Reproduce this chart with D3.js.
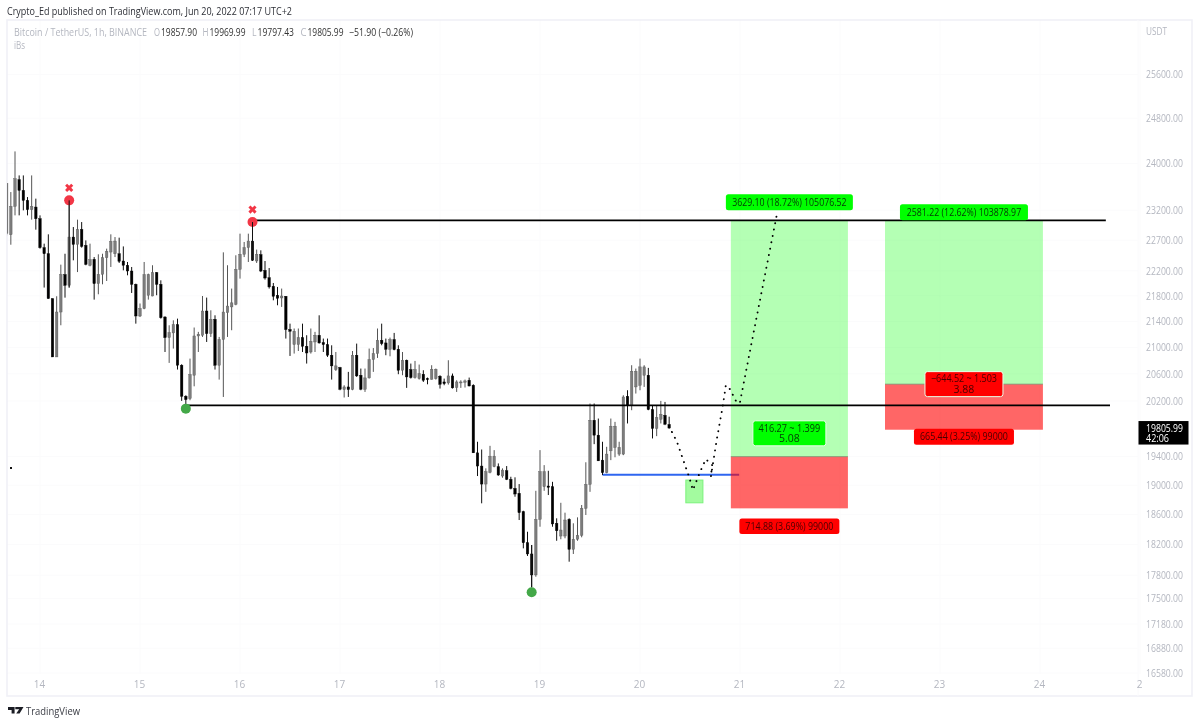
<!DOCTYPE html>
<html>
<head>
<meta charset="utf-8">
<script src="https://cdn.jsdelivr.net/npm/d3@7"></script>
<style>
  html, body {margin:0; padding:0; background:#fff;}
  svg {display:block; filter:blur(0.35px);}
  text {font-family:"Open Sans", sans-serif;}
</style>
</head>
<body>
<div id="chart"></div>
<script>
const WIDTH = 1200, HEIGHT = 724
const PANE = {LEFT:7, RIGHT:1192, TOP:20, BOTTOM:696, AXIS:1138}

// hourly candles, first one is 16:00 on the 13th
const firstHour = -8
const opens = [22812,22790,23264,23718,23535,23365,23208,23252,
  23056,22577,22477,21757,20855,21546,22140,21968,22751,22630,
  22878,22614,22290,22386,21995,22144,22412,22505,22477,22477,
  22359,22290,22197,21984,21484,21600,21810,21798,22171,21984,
  21468,21150,21222,21350,20730,20268,20235,20580,21175,21186,
  21562,21212,21433,20730,21120,21536,21626,21667,22224,22468,
  22577,22685,22359,22463,22208,22090,21952,21810,21767,21794,
  21274,21043,21043,21150,21017,20930,21083,21186,21074,21043,
  20881,20665,20695,20367,20406,20367,20881,20580,20372,20540,
  20815,20906,21109,21068,20972,21120,20972,20655,20805,20665,
  20545,20530,20595,20530,20520,20530,20565,20480,20465,20570,
  20397,20465,20475,20505,20431,19453,19267,19017,19180,19258,
  19258,19128,19201,19082,18957,18890,18640,18224,18076,17803,
  18536,18980,18990,18980,18483,18313,18313,18536,18137,18270,
  18322,18685,19013,19919,19704,19350,19175,19481,19530,19435,
  19435,20268,20137,20406,20431,20580,20580,20074,19800,19933,19990,19857.90]
const highs = [23655,23506,24210,23792,23792,23421,23792,23394,
  23112,22642,22796,21757,21794,22300,22477,23365,22917,23040,
  23000,22696,22642,22423,22468,22477,22560,22796,22751,22741,
  22597,22343,22262,21995,21680,22343,22155,22290,22180,22048,
  21480,21340,21417,21443,20745,20283,20830,21305,21238,21798,
  21773,21573,21495,21160,22500,22290,21916,22452,22807,22670,
  22807,23000,22545,22533,22359,22245,22005,21942,21916,21794,
  21365,21290,21290,21365,21186,21290,21238,21495,21135,21135,
  21032,20930,20705,20431,20630,20945,21058,20680,20680,20982,
  20990,21290,21365,21135,21150,21222,21032,20930,20815,20755,
  20795,20740,20655,20545,20730,20680,20580,20530,20805,20605,
  20505,20505,20515,20545,20445,19610,19500,19235,19552,19491,
  19304,19235,19267,19118,19110,19017,18652,18370,18194,18924,
  19491,19280,19201,19048,18550,18760,18626,18550,18483,18563,
  18730,19320,20162,20162,19943,19610,19538,19943,19895,19610,
  20283,20357,20730,20680,20830,20730,20690,20137,20137,20200,20185,19969.99]
const lows = [22779,22625,23112,23112,23196,23112,23040,22873,
  22560,21932,21757,20855,20855,21340,21772,21932,22370,22180,
  22577,22290,22273,21741,21825,21984,22037,22262,22423,22327,
  22208,22128,21846,21365,21468,21590,21741,21794,21810,21443,
  20930,20765,20982,20665,20200,20137,20210,20415,20930,21160,
  21083,21160,20665,20515,20258,21160,21263,21652,22075,22423,
  22343,22359,22327,22180,22059,21916,21730,21652,21626,21135,
  20870,20906,20945,20930,20755,20906,20930,21058,20930,20855,
  20515,20645,20357,20250,20258,20357,20555,20357,20332,20530,
  20630,20840,21032,20881,20865,20956,20595,20580,20392,20530,
  20530,20515,20480,20445,20515,20515,20382,20431,20440,20382,
  20332,20392,20397,20415,19453,19128,18753,18910,19166,19250,
  19132,19104,19072,18944,18843,18527,18150,18050,17645,17780,
  18437,18924,18866,18437,18250,18270,18283,17975,18076,18250,
  18296,18595,18910,19576,19340,19142,19166,19350,19390,19410,
  19420,19872,20064,20308,20357,20406,20064,19657,19690,19872,19848,19797.43]
const closes = [23655,23264,23735,23535,23365,23208,23264,23056,
  22577,22477,21757,20855,21546,22140,21968,22751,22630,22878,
  22597,22305,22380,21995,22144,22412,22517,22680,22685,22354,
  22290,22197,21984,21484,21600,22140,22140,22171,21984,21458,
  21150,21228,21350,20730,20268,20220,20590,21175,21202,21562,
  21212,21433,20730,21120,21546,21640,21690,22224,22468,22577,
  22685,22370,22468,22197,22085,21942,21794,21762,21798,21274,
  21248,21248,21150,21017,20915,21094,21186,21068,21043,20881,
  20720,20720,20372,20406,20367,20881,20570,20372,20540,20815,
  20906,21109,21058,20972,21120,20966,20655,20805,20555,20545,
  20665,20605,20505,20515,20670,20670,20445,20455,20570,20392,
  20480,20480,20495,20420,19453,19267,19017,19188,19406,19406,
  19142,19211,19082,18957,18880,18626,18224,18076,17803,18536,
  19188,19188,18972,18474,18383,18393,18527,18137,18270,18322,
  18685,19013,19919,19704,19340,19175,19435,19833,19833,19530,
  20258,20137,20640,20640,20705,20705,20074,19800,19958,20006,19862,19805.99]

const priceTicks = [25600,24800,24000,23200,22700,22200,21800,21400,21000,20600,20200,19400,19000,18600,18200,17800,17500,17180,16880,16580]
const dayTicks = [0,24,48,72,96,120,144,168,192,216,240,264]
const dayLabels = ["14","15","16","17","18","19","20","21","22","23","24","2"]

// swing markers
const highMarkHours = [7,51], highMarkPrices = [23365,23000]
const lowMarkHours = [35,118], lowMarkPrices = [20160,17645]

// drawn levels
const resistance = 23028.6, support = 20135
const resistanceFrom = 51, resistanceTo = 255.8
const supportFrom = 35, supportTo = 256.8
const entryLevel = 19146, entryFrom = 135, entryTo = 167.8

// long positions
const posFrom = [165.8,202.8], posTo = [193.9,240.7]
const posEntry = [19399.5,20447.4], posStop = [18684.6,19782]

const targetLabels = ["3629.10 (18.72%) 105076.52","2581.22 (12.62%) 103878.97"]
const stopLabels = ["714.88 (3.69%) 99000","665.44 (3.25%) 99000"]
const midLabels = [["416.27 ~ 1.399","5.08"],["\u2212644.52 ~ 1.503","3.88"]]

// entry zone
const zoneFrom = 155, zoneTo = 159.1, zoneTop = 19072, zoneBottom = 18760

// projected path
const pathHours = [150.96,152.9,154.3,155.8,156.7,158.4,159.8,161.3,161,162.4,163.9,164.6,165.6,167.3,168,170.9,176.9]
const pathPrices = [19833,19605,19364,19114,18934,19183,19364,19280,19114,19633,20137,20431,20372,20167,20181,21109,23146]

const x = d3.scaleLinear().domain([0,24]).range([40,140])
const y = d3.scaleLog().domain([25600,16580]).range([74.5,673])

const svg = d3.select("#chart").append("svg")
  .attr("width", WIDTH)
  .attr("height", HEIGHT)

svg.append("clipPath").attr("id","pane").append("rect")
  .attr("x", PANE.LEFT).attr("y", PANE.TOP)
  .attr("width", PANE.AXIS - PANE.LEFT).attr("height", PANE.BOTTOM - PANE.TOP)

// grid
svg.append("g").selectAll("line").data(priceTicks).enter().append("line")
  .attr("x1", PANE.LEFT).attr("x2", PANE.AXIS)
  .attr("y1", d => y(d)).attr("y2", d => y(d))
  .attr("stroke", "#fbfbfc")
svg.append("g").selectAll("line").data(dayTicks).enter().append("line")
  .attr("x1", d => x(d)).attr("x2", d => x(d))
  .attr("y1", PANE.TOP).attr("y2", 674)
  .attr("stroke", "#fbfbfc")

// frame
svg.append("rect")
  .attr("x", PANE.LEFT).attr("y", PANE.TOP)
  .attr("width", PANE.RIGHT - PANE.LEFT).attr("height", PANE.BOTTOM - PANE.TOP)
  .attr("fill", "none").attr("stroke", "#f0f1f7").attr("stroke-width", 1.6)
svg.append("line")
  .attr("x1", PANE.AXIS).attr("x2", PANE.AXIS).attr("y1", PANE.TOP).attr("y2", PANE.BOTTOM)
  .attr("stroke", "#fafafc")

// axes
const axisY = d3.axisRight(y).tickValues(priceTicks).tickSize(0).tickPadding(0)
  .tickFormat(d => d3.format(".2f")(d))
svg.append("g").attr("transform", "translate(1146,0)").call(axisY)
  .call(g => g.select(".domain").remove())
  .selectAll("text").attr("fill", "#b4b7c0").attr("font-size", 10).attr("font-family", "'Open Sans'")
  .attr("textLength", 37).attr("lengthAdjust", "spacingAndGlyphs")

const axisX = d3.axisBottom(x).tickValues(dayTicks).tickSize(0).tickPadding(0)
  .tickFormat((d,i) => dayLabels[i])
svg.append("g").attr("transform", "translate(-1,681)").call(axisX)
  .call(g => g.select(".domain").remove())
  .selectAll("text").attr("fill", "#b4b7c0").attr("font-size", 10).attr("font-family", "'Open Sans'")

// position boxes and blue level go under the candles' lines
const chart = svg.append("g").attr("clip-path", "url(#pane)")

chart.append("line")
  .attr("x1", x(entryFrom)).attr("x2", x(entryTo))
  .attr("y1", y(entryLevel)).attr("y2", y(entryLevel))
  .attr("stroke", "#2f66f0").attr("stroke-width", 2)

posFrom.forEach((from,i) => {
  chart.append("rect")
    .attr("x", x(from)).attr("width", x(posTo[i]) - x(from))
    .attr("y", y(resistance)).attr("height", y(posEntry[i]) - y(resistance))
    .attr("fill", "#00ff00").attr("fill-opacity", 0.295)
  chart.append("rect")
    .attr("x", x(from)).attr("width", x(posTo[i]) - x(from))
    .attr("y", y(posEntry[i])).attr("height", y(posStop[i]) - y(posEntry[i]))
    .attr("fill", "#ff0000").attr("fill-opacity", 0.6)
  chart.append("line")
    .attr("x1", x(from)).attr("x2", x(posTo[i]))
    .attr("y1", y(posEntry[i])).attr("y2", y(posEntry[i]))
    .attr("stroke", "#6b8f6b").attr("stroke-width", 0.7)
})

chart.append("rect")
  .attr("x", x(zoneFrom)).attr("width", x(zoneTo) - x(zoneFrom))
  .attr("y", y(zoneTop)).attr("height", y(zoneBottom) - y(zoneTop))
  .attr("fill", "#a3fb9f").attr("stroke", "#7cf27c").attr("stroke-width", 1)

// candles
const candles = chart.append("g").selectAll("g")
  .data(opens.map((d,i) => i))
  .enter().append("g")

candles.append("line")
  .attr("x1", i => x(firstHour + i)).attr("x2", i => x(firstHour + i))
  .attr("y1", i => y(highs[i])).attr("y2", i => y(lows[i]))
  .attr("stroke", i => closes[i] >= opens[i] ? "#555" : "#111")
  .attr("stroke-width", 1)

candles.append("rect")
  .attr("x", i => x(firstHour + i) - 1.25)
  .attr("width", 2.5)
  .attr("y", i => y(Math.max(opens[i], closes[i])))
  .attr("height", i => Math.max(1, y(Math.min(opens[i], closes[i])) - y(Math.max(opens[i], closes[i]))))
  .attr("fill", i => closes[i] >= opens[i] ? "#7c7c7c" : "#000")
  .attr("stroke", i => closes[i] >= opens[i] ? "#5a5a5a" : "#000")
  .attr("stroke-width", 0.4)

// levels
chart.append("line")
  .attr("x1", x(resistanceFrom)).attr("x2", x(resistanceTo))
  .attr("y1", y(resistance)).attr("y2", y(resistance))
  .attr("stroke", "#000").attr("stroke-width", 1.7)
chart.append("line")
  .attr("x1", x(supportFrom)).attr("x2", x(supportTo))
  .attr("y1", y(support)).attr("y2", y(support))
  .attr("stroke", "#000").attr("stroke-width", 1.7)

// projected path
const pathLine = d3.line().x(d => x(d[0])).y(d => y(d[1]))
chart.append("path")
  .attr("d", pathLine(pathHours.map((h,i) => [h, pathPrices[i]])))
  .attr("fill", "none").attr("stroke", "#000").attr("stroke-width", 1.9)
  .attr("stroke-linecap", "round").attr("stroke-dasharray", "0.1 6.4")

// swing markers
highMarkHours.forEach((h,i) => {
  chart.append("circle").attr("cx", x(h)).attr("cy", y(highMarkPrices[i])).attr("r", 5)
    .attr("fill", "#f23645")
  chart.append("path")
    .attr("d", d3.symbol(d3.symbolCross, 42)())
    .attr("transform", `translate(${x(h)},${y(highMarkPrices[i]) - 12.5}) rotate(45)`)
    .attr("fill", "#f23645")
})
lowMarkHours.forEach((h,i) => {
  chart.append("circle").attr("cx", x(h)).attr("cy", y(lowMarkPrices[i]) + 5).attr("r", 5)
    .attr("fill", "#43a848")
})
// wicks sit on top of the dots
;[7,51,118].forEach(h => {
  const i = h - firstHour
  chart.append("line").attr("x1", x(h)).attr("x2", x(h))
    .attr("y1", y(highs[i])).attr("y2", y(lows[i]) ).attr("stroke", "#111").attr("stroke-width", 1)
})

// position labels, two-line ones are tspans of one text
function tag(cx, cy, w, h, fill, lines, border) {
  const g = svg.append("g").attr("transform", `translate(${cx},${cy})`)
  g.append("rect")
    .attr("x", -w/2).attr("y", -h/2).attr("width", w).attr("height", h).attr("rx", 2.5)
    .attr("fill", fill)
    .attr("stroke", border ? "#e8ffe8" : "none").attr("stroke-width", border ? 1 : 0)
  const txt = g.append("text")
    .attr("text-anchor", "middle")
    .attr("font-size", 10.5)
    .attr("fill", fill == "#ff0000" ? "#4a0000" : "#063a06")
  lines.forEach((t,i) => {
    txt.append("tspan")
      .attr("x", 0)
      .attr("y", (i - (lines.length - 1) / 2) * 10.5 + 3.6)
      .attr("textLength", t.length > 6 ? t.length * 4.4 : null)
      .attr("lengthAdjust", "spacingAndGlyphs")
      .text(t)
  })
}
const posMid = posFrom.map((d,i) => x((d + posTo[i]) / 2))
tag(posMid[0], y(resistance) - 18, 127, 16, "#00ff00", [targetLabels[0]])
tag(posMid[1], y(resistance) - 8, 128, 16, "#00ff00", [targetLabels[1]])
tag(posMid[0], y(posEntry[0]) - 23.3, 73, 25, "#00ff00", midLabels[0], true)
tag(posMid[1], y(posEntry[1]), 78, 25, "#ff0000", midLabels[1], true)
tag(posMid[0], y(posStop[0]) + 18, 100, 15.5, "#ff0000", [stopLabels[0]])
tag(posMid[1], y(posStop[1]) + 7, 100, 16, "#ff0000", [stopLabels[1]])

// last price tag
const lastClose = closes[closes.length - 1]
svg.append("rect").attr("x", 1138.5).attr("y", y(lastClose) - 7).attr("width", 50).attr("height", 23.5).attr("fill", "#000")
const lastTxt = svg.append("text").attr("fill", "#fff").attr("font-size", 10)
lastTxt.append("tspan").attr("x", 1146).attr("y", y(lastClose) + 3.6)
  .attr("textLength", 37).attr("lengthAdjust", "spacingAndGlyphs").text(d3.format(".2f")(lastClose))
lastTxt.append("tspan").attr("x", 1146).attr("y", y(lastClose) + 14)
  .attr("textLength", 23).attr("lengthAdjust", "spacingAndGlyphs").text("42:06")

// stray tick at the left edge
svg.append("rect").attr("x", 10).attr("y", 467).attr("width", 2).attr("height", 2).attr("fill", "#111")

// header text
function label(tx, ty, str, w, color, size) {
  svg.append("text").attr("x", tx).attr("y", ty).attr("fill", color).attr("font-size", size || 10.5)
    .attr("textLength", w).attr("lengthAdjust", "spacingAndGlyphs").text(str)
}
label(7, 15, "Crypto_Ed published on TradingView.com, Jun 20, 2022 07:17 UTC+2", 285, "#2d2f36")
label(14, 36, "Bitcoin / TetherUS, 1h, BINANCE", 133, "#b4b7c0")

// OHLC legend is one text so the letters sit tight on their values
const ohlc = svg.append("text").attr("y", 36).attr("font-size", 10.5)
const ohlcParts = [["O",154,6,"#b4b7c0"],["19857.90",161,36,"#333"],["H",202.5,6,"#b4b7c0"],["19969.99",209.5,36,"#333"],
  ["L",252,4.5,"#b4b7c0"],["19797.43",257.5,36.5,"#333"],["C",300.5,6,"#b4b7c0"],["19805.99",307.5,36,"#333"],
  ["\u221251.90 (\u22120.26%)",349,64,"#333"]]
ohlcParts.forEach(p => {
  ohlc.append("tspan").attr("x", p[1]).attr("fill", p[3])
    .attr("textLength", p[2]).attr("lengthAdjust", "spacingAndGlyphs").text(p[0])
})

label(14, 49, "iBs", 11, "#b4b7c0")
label(1146, 35, "USDT", 21, "#b4b7c0")

// logo
svg.append("path")
  .attr("transform", "translate(8,707)")
  .attr("d", "M0 0H6.6V6.6H3.6V3H0Z M7.3 0H15.5L11.6 6.6H8.2L11.2 2.2H7.3Z")
  .attr("fill", "#1b1d24")
label(26, 715, "TradingView", 54, "#3a3c44", 11.5)
</script>
</body>
</html>
